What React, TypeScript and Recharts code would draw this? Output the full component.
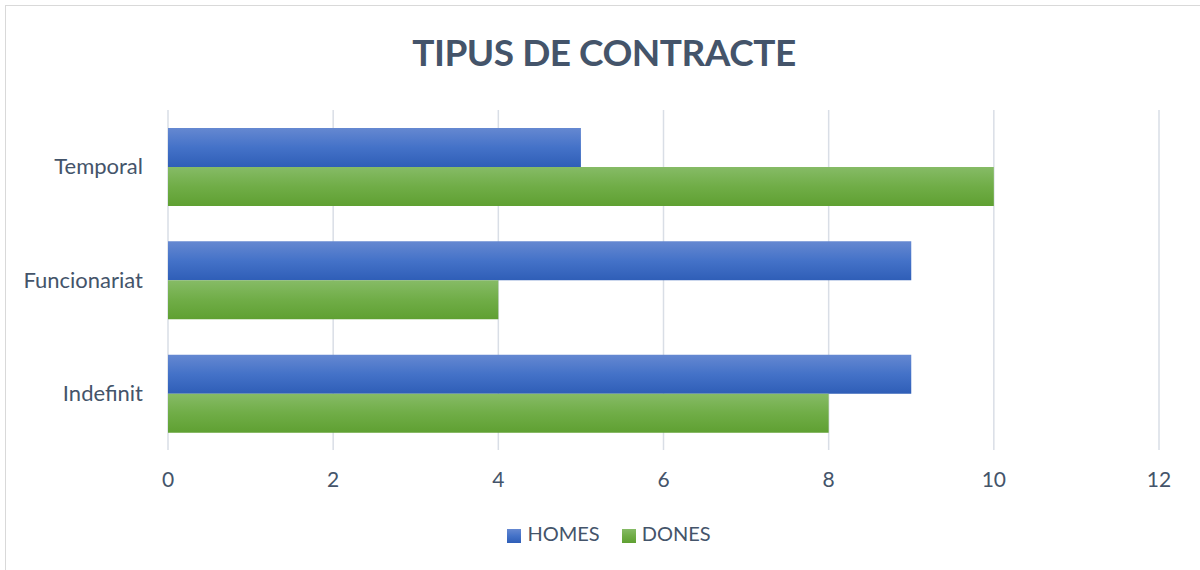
import React from 'react';
import { BarChart, Bar, XAxis, YAxis, CartesianGrid, Legend } from 'recharts';

const categories = ['Temporal', 'Funcionariat', 'Indefinit'];
const homes = [5, 9, 9];
const dones = [10, 4, 8];
const xTicks = [0, 2, 4, 6, 8, 10, 12];
const seriesOrder = ['HOMES', 'DONES'];

const data = categories.map((name, i) => ({ name, HOMES: homes[i], DONES: dones[i] }));

const textColor = '#44546a';
const font = 'Lato, "Open Sans", sans-serif';

const App: React.FC = () => {
  return (
    <div style={{ position: 'absolute', left: 0, top: 0, width: 1200, height: 570, background: '#fff', overflow: 'hidden', fontFamily: font }}>
      <div style={{ position: 'absolute', left: 5, top: 5, width: 1220, height: 600, border: '1px solid #d9d9d9' }} />
      <div
        style={{
          position: 'absolute', left: 0, top: 29, width: 1208, textAlign: 'center',
          fontSize: 37, fontWeight: 700, color: textColor, letterSpacing: -0.5,
        }}
      >
        TIPUS DE CONTRACTE
      </div>
      <div style={{ position: 'absolute', left: 0, top: 0 }}>
        <BarChart
          width={1200}
          height={570}
          data={data}
          layout="vertical"
          margin={{ top: 110, right: 41, bottom: 66, left: 0 }}
          barCategoryGap={18}
          barGap={0}
        >
          <defs>
            <linearGradient id="gBlue" x1="0" y1="0" x2="0" y2="1">
              <stop offset="0%" stopColor="#6588d1" />
              <stop offset="50%" stopColor="#4472c8" />
              <stop offset="100%" stopColor="#2f5eb7" />
            </linearGradient>
            <linearGradient id="gGreen" x1="0" y1="0" x2="0" y2="1">
              <stop offset="0%" stopColor="#86bb66" />
              <stop offset="50%" stopColor="#70ad47" />
              <stop offset="100%" stopColor="#5fa032" />
            </linearGradient>
          </defs>
          <CartesianGrid horizontal={false} stroke="#d9dee6" strokeWidth={1.5} />
          <XAxis
            type="number"
            domain={[0, 12]}
            ticks={xTicks}
            axisLine={false}
            tickLine={false}
            height={30}
            tick={{ fill: textColor, fontSize: 21, fontFamily: font }}
            tickMargin={16}
          />
          <YAxis
            type="category"
            dataKey="name"
            width={168}
            axisLine={false}
            tickLine={false}
            tick={{ fill: textColor, fontSize: 22, fontFamily: font }}
            tickMargin={19}
          />
          <Legend
            verticalAlign="bottom"
            iconType="square"
            iconSize={14}
            itemSorter={(item: any) => seriesOrder.indexOf(item.value)}
            wrapperStyle={{ bottom: 25, left: 0, width: 1240, fontSize: 20, fontFamily: font }}
            formatter={(value: string) => <span style={{ color: textColor, marginLeft: 2, marginRight: 12 }}>{value}</span>}
          />
          <Bar dataKey="HOMES" name="HOMES" fill="url(#gBlue)" legendType="square" isAnimationActive={false} />
          <Bar dataKey="DONES" name="DONES" fill="url(#gGreen)" legendType="square" isAnimationActive={false} />
        </BarChart>
      </div>
    </div>
  );
};

export default App;
